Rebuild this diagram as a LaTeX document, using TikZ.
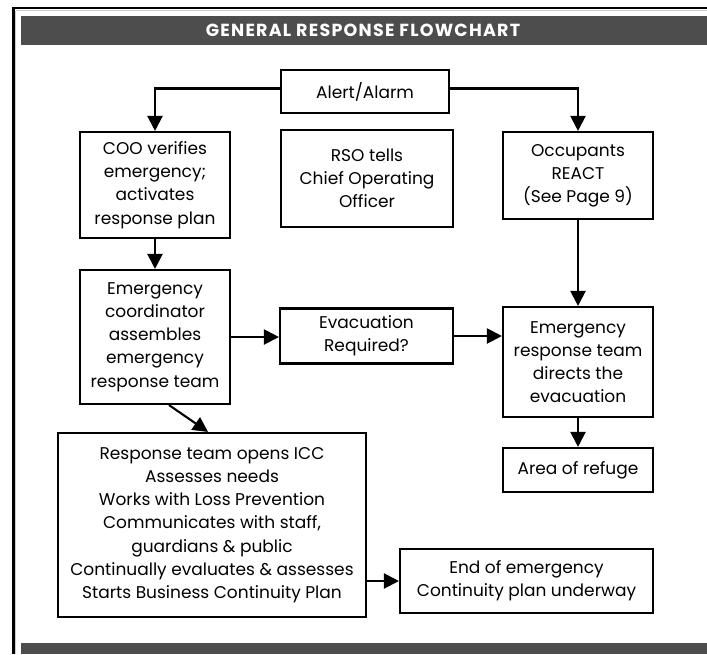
\documentclass[tikz,border=0pt]{standalone}
\usepackage{fontspec}
\setmainfont{Poppins}
\usetikzlibrary{arrows.meta}
\definecolor{bargray}{HTML}{4D4D4D}
\tikzset{
  box/.style={draw=black, line width=2.1pt, align=center, inner sep=0pt,
    font=\fontsize{17}{23.2}\selectfont, text=black},
  conn/.style={line width=2.1pt, -{Triangle[length=15pt,width=15pt]}}
}
\begin{document}
\begin{tikzpicture}[x=1pt,y=-1pt]
\useasboundingbox (0,0) rectangle (707,654);
\fill[white] (0,0) rectangle (707,654);
% frame
\draw[line width=1pt, gray!40] (15.5,10.5) -- (707,10.5);
\draw[line width=1pt, gray!40] (15.5,10.5) -- (15.5,654);
\draw[line width=2.8pt, black] (12,8) -- (707,8);
\draw[line width=2.8pt, black] (13.3,6.6) -- (13.3,654);
% header and footer bars
\fill[bargray] (21,16) rectangle (707,44.5);
\node[font=\bfseries\fontsize{17.5}{18}\selectfont\addfontfeature{LetterSpace=7}, text=white] (title) at (363,30.5) {GENERAL RESPONSE FLOWCHART};
\fill[bargray] (21,643) rectangle (707,654);
% nodes
\node[box, minimum width=168pt, minimum height=43pt] (alert) at (365,91.5) {Alert/Alarm};
\node[box, minimum width=150pt, minimum height=106pt] (coo) at (155,185) {COO verifies\\emergency;\\activates\\response plan};
\node[box, minimum width=172pt, minimum height=97pt] (rso) at (367,178.5) {RSO tells\\Chief Operating\\Officer};
\node[box, minimum width=150pt, minimum height=87pt] (occ) at (578,175.5) {Occupants\\REACT\\(See Page 9)};
\node[box, minimum width=150pt, minimum height=134pt] (ec) at (155,337) {Emergency\\coordinator\\assembles\\emergency\\response team};
\node[box, minimum width=173pt, minimum height=55pt] (evac) at (366.5,336) {Evacuation\\Required?};
\node[box, minimum width=150pt, minimum height=110pt] (ert) at (578,362) {Emergency\\response team\\directs the\\evacuation};
\node[box, minimum width=150pt, minimum height=44pt] (area) at (578,470) {Area of refuge};
\node[box, minimum width=308pt, minimum height=184pt] (icc) at (212,525) {Response team opens ICC\\Assesses needs\\Works with Loss Prevention\\Communicates with staff,\\guardians \& public\\Continually evaluates \& assesses\\Starts Business Continuity Plan};
\node[box, minimum width=253pt, minimum height=64pt] (end) at (526.5,581) {End of emergency\\Continuity plan underway};
% connectors
\draw[conn] ([yshift=3pt]alert.west) -| (coo.north);
\draw[conn] ([yshift=3pt]alert.east) -| (occ.north);
\draw[conn] (coo.south) -- (ec.north);
\draw[conn] (ec.east) -- (ec.east -| evac.west);
\draw[conn] (evac.east) -- (evac.east -| ert.west);
\draw[conn] (occ.south) -- (ert.north);
\draw[conn] (ert.south) -- (area.north);
\draw[conn] ([xshift=14pt]ec.south) -- ([xshift=-4pt]icc.north);
\draw[conn] (icc.east |- end.west) -- (end.west);
\end{tikzpicture}
\end{document}
